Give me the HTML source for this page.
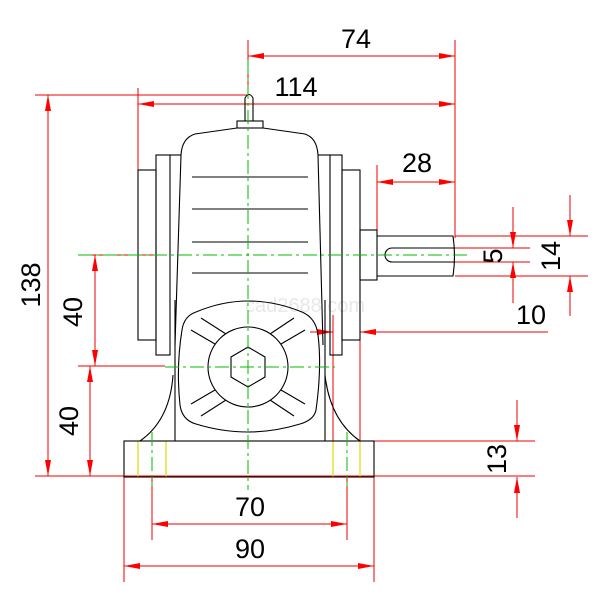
<!DOCTYPE html>
<html><head><style>html,body{margin:0;padding:0;background:#fff}svg{display:block}</style></head><body>
<svg width="610" height="610" viewBox="0 0 610 610" xmlns="http://www.w3.org/2000/svg">
<defs>
<marker id="a" viewBox="0 0 16 6" refX="16" refY="3" markerWidth="16" markerHeight="6" markerUnits="userSpaceOnUse" orient="auto-start-reverse"><path d="M0,0L16,3L0,6z" fill="#f00"/></marker>
</defs>
<rect width="610" height="610" fill="#fff"/>
<text x="305" y="312" font-family="Liberation Sans,sans-serif" font-size="20" fill="#e8e8e8" text-anchor="middle">cad2688.com</text>
<g stroke="#e00" stroke-width="1" fill="none">
<!-- 74 -->
<line x1="248" y1="40" x2="248" y2="94"/><line x1="455" y1="40" x2="455" y2="238"/>
<line x1="248" y1="56" x2="455" y2="56" marker-start="url(#a)" marker-end="url(#a)"/>
<!-- 114 -->
<line x1="138" y1="88" x2="138" y2="170"/>
<line x1="138" y1="104" x2="455" y2="104" marker-start="url(#a)" marker-end="url(#a)"/>
<!-- 138 -->
<line x1="35" y1="95" x2="248" y2="95"/>
<line x1="35" y1="476" x2="535" y2="476"/>
<line x1="48" y1="95" x2="48" y2="476" marker-start="url(#a)" marker-end="url(#a)"/>
<!-- 40s -->
<line x1="78" y1="255" x2="160" y2="255"/>
<line x1="78" y1="366" x2="165" y2="366"/>
<line x1="95" y1="255" x2="95" y2="366" marker-start="url(#a)" marker-end="url(#a)"/>
<line x1="90" y1="366" x2="90" y2="476" marker-start="url(#a)" marker-end="url(#a)"/>
<!-- 28 -->
<line x1="377" y1="165" x2="377" y2="230"/>
<line x1="377" y1="182" x2="455" y2="182" marker-start="url(#a)" marker-end="url(#a)"/>
<!-- 5 -->
<line x1="455" y1="248" x2="530" y2="248"/><line x1="455" y1="262" x2="530" y2="262"/>
<line x1="513" y1="207" x2="513" y2="248" marker-end="url(#a)"/>
<line x1="513" y1="303" x2="513" y2="262" marker-end="url(#a)"/>
<!-- 14 -->
<line x1="455" y1="236" x2="588" y2="236"/><line x1="455" y1="276" x2="588" y2="276"/>
<line x1="570" y1="195" x2="570" y2="236" marker-end="url(#a)"/>
<line x1="570" y1="316" x2="570" y2="276" marker-end="url(#a)"/>
<!-- 10 -->
<line x1="333" y1="315" x2="333" y2="441"/><line x1="360" y1="315" x2="360" y2="441"/>
<line x1="548" y1="332" x2="360" y2="332" marker-end="url(#a)"/>
<line x1="310" y1="332" x2="333" y2="332" marker-end="url(#a)"/>
<!-- 13 -->
<line x1="374" y1="441" x2="535" y2="441"/>
<line x1="517" y1="400" x2="517" y2="441" marker-end="url(#a)"/>
<line x1="517" y1="518" x2="517" y2="477" marker-end="url(#a)"/>
<!-- 70 / 90 -->
<line x1="152" y1="477" x2="152" y2="540"/><line x1="347" y1="477" x2="347" y2="540"/>
<line x1="152" y1="524" x2="347" y2="524" marker-start="url(#a)" marker-end="url(#a)"/>
<line x1="124" y1="477" x2="124" y2="582"/><line x1="374" y1="477" x2="374" y2="582"/>
<line x1="124" y1="566" x2="374" y2="566" marker-start="url(#a)" marker-end="url(#a)"/>
</g>
<!-- yellow -->
<g stroke="#dd0" stroke-width="1.2">
<line x1="138" y1="441" x2="138" y2="477"/><line x1="166" y1="441" x2="166" y2="477"/>
<line x1="333" y1="441" x2="333" y2="477"/><line x1="360" y1="441" x2="360" y2="477"/>
</g>
<!-- black geometry -->
<g stroke="#000" stroke-width="1.1" fill="none">
<path d="M245,121 L245,98 Q249,91 253,98 L253,121"/>
<rect x="237" y="121" width="26" height="7"/>
<path d="M181,155 Q182,138 195,134 L237,128 L263,128 L305,134 Q317,138 318,155 L323,345"/>
<path d="M181,155 L175,345"/>
<rect x="138" y="170" width="18" height="170"/>
<rect x="156" y="155" width="14" height="200"/>
<line x1="170" y1="155" x2="181" y2="155"/>
<line x1="175" y1="300" x2="175" y2="441"/>
<rect x="342" y="170" width="18" height="170"/>
<rect x="330" y="155" width="12" height="200"/>
<line x1="318" y1="155" x2="330" y2="155"/>
<line x1="325" y1="300" x2="325" y2="441"/>
<line x1="192" y1="177" x2="308" y2="177"/><line x1="192" y1="209" x2="308" y2="209"/>
<line x1="192" y1="242" x2="308" y2="242"/><line x1="192" y1="273" x2="308" y2="273"/>
<path d="M196,312 Q248,290 302,312 Q316,318 318,335 Q322,367 316,410 Q314,420 300,424 Q248,440 196,424 Q182,420 180,405 Q176,367 182,330 Q184,316 196,312z"/>
<circle cx="248" cy="367" r="40"/>
<polygon points="248,347 265,357 265,377 248,387 231,377 231,357"/>
<line x1="201" y1="318" x2="226" y2="334"/><line x1="294" y1="318" x2="270" y2="334"/>
<line x1="191" y1="330" x2="215" y2="344"/><line x1="305" y1="330" x2="281" y2="344"/>
<line x1="201" y1="416" x2="226" y2="400"/><line x1="294" y1="416" x2="270" y2="400"/>
<line x1="191" y1="404" x2="215" y2="390"/><line x1="305" y1="404" x2="281" y2="390"/>
<path d="M173,375 Q170,420 140,441"/><path d="M325,375 Q330,420 360,441"/>
<rect x="124" y="441" width="250" height="36"/>
<rect x="360" y="230" width="17" height="50"/>
<path d="M377,236 L453,236 Q456,256 453,276 L377,276"/>
<path d="M392,248 L455,248 M392,262 L455,262 M392,248 A7,7 0 0 0 392,262"/>
</g>
<!-- green centerlines -->
<g stroke="#0b0" stroke-width="1" stroke-dasharray="14,4,3,4">
<line x1="248" y1="60" x2="248" y2="490"/>
<line x1="78" y1="255" x2="470" y2="255"/>
<line x1="165" y1="367" x2="335" y2="367"/>
<line x1="152" y1="432" x2="152" y2="486"/><line x1="347" y1="432" x2="347" y2="486"/>
</g>
<g font-family="Liberation Sans,sans-serif" font-size="27" fill="#000" text-anchor="middle">
<text x="356" y="48">74</text>
<text x="296" y="96">114</text>
<text x="417" y="172">28</text>
<text x="531" y="324">10</text>
<text x="250" y="516">70</text>
<text x="250" y="558">90</text>
<text transform="translate(40,285) rotate(-90)">138</text>
<text transform="translate(82,312) rotate(-90)">40</text>
<text transform="translate(78,421) rotate(-90)">40</text>
<text transform="translate(502,256) rotate(-90)">5</text>
<text transform="translate(560,256) rotate(-90)">14</text>
<text transform="translate(506,459) rotate(-90)">13</text>
</g>
</svg>
</body></html>
